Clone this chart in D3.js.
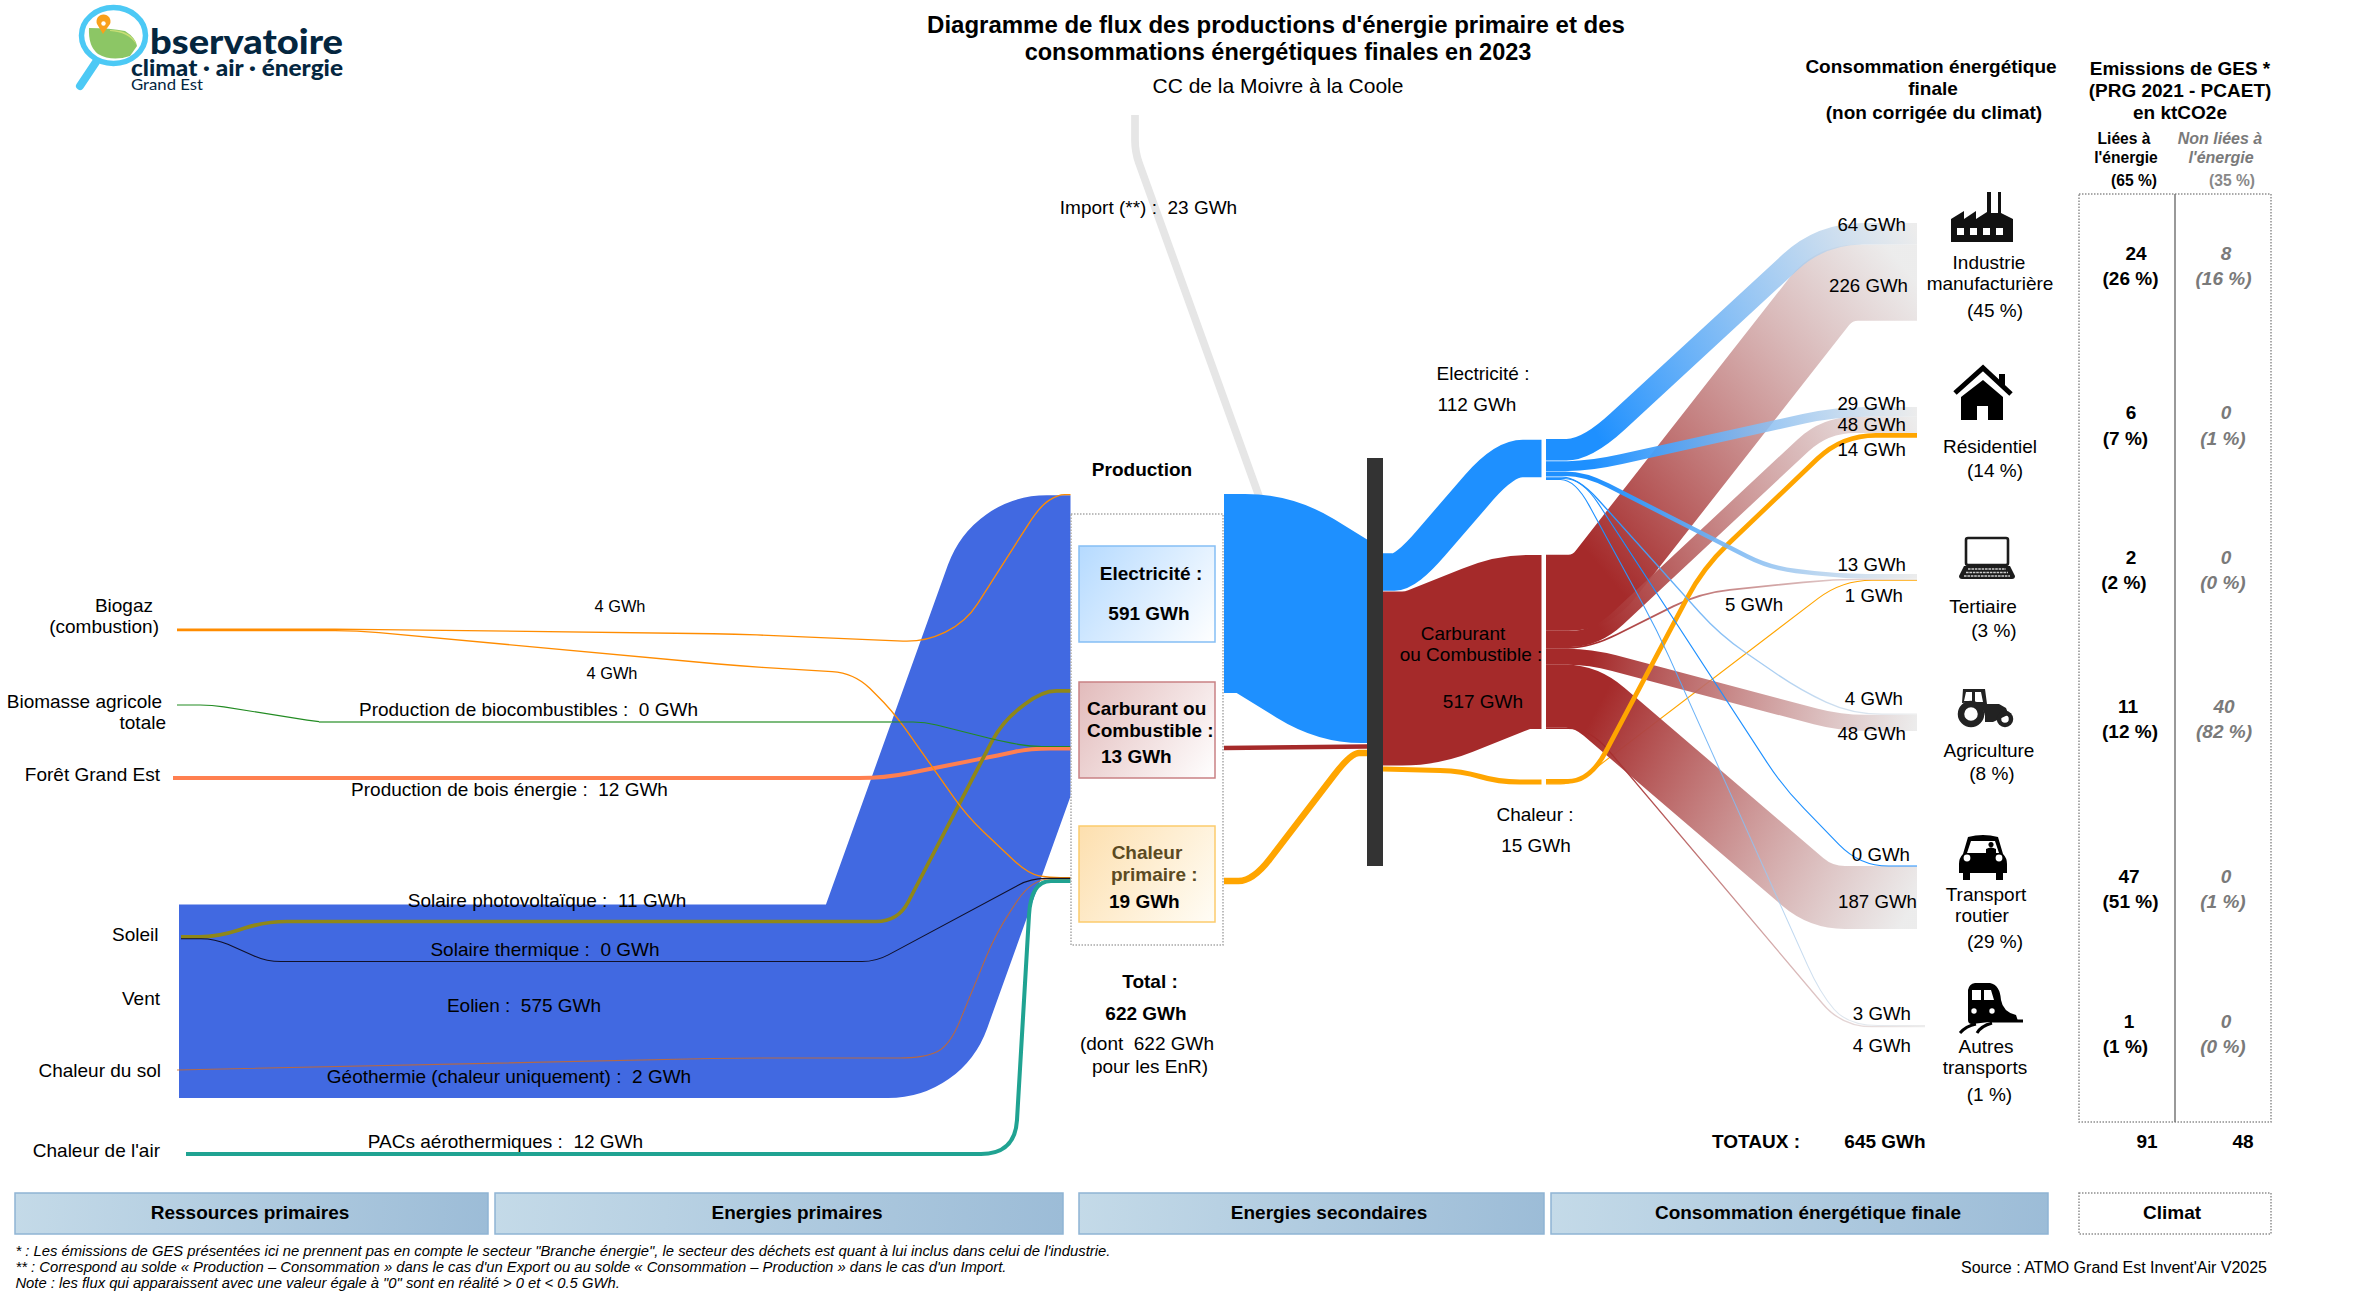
<!DOCTYPE html>
<html lang="fr"><head><meta charset="utf-8">
<script src="https://cdn.jsdelivr.net/npm/d3@7/dist/d3.min.js"></script>
<style>
html,body{margin:0;padding:0;background:#fff}
svg{display:block}
text{font-family:"Liberation Sans",Arial,sans-serif;fill:#000}
</style></head><body><svg id="c" width="2370" height="1299"></svg>
<script>
// ---------- DATA ----------
const primarySources=["Biogaz","Biogaz","Biomasse agricole","Forêt Grand Est","Vent","Soleil","Soleil","Chaleur du sol","Chaleur de l'air"];
const primaryTargets=["Electricité","Chaleur","Carburant","Carburant","Electricité","Electricité","Chaleur","Chaleur","Chaleur"];
const primaryNames=["","","Production de biocombustibles","Production de bois énergie","Eolien","Solaire photovoltaïque","Solaire thermique","Géothermie (chaleur uniquement)","PACs aérothermiques"];
const primaryValues=[4,4,0,12,575,11,0,2,12];
const productionNames=["Electricité","Carburant","Chaleur"];
const productionValues=[591,13,19];
const importValue=23;
const productionTotal=622, productionEnR=622;
const carrierNames=["Electricité","Carburant","Chaleur"];
const carrierValues=[112,517,15];
const sectorNames=[["Industrie","manufacturière"],["Résidentiel"],["Tertiaire"],["Agriculture"],["Transport","routier"],["Autres","transports"]];
const sectorShares=[45,14,3,8,29,1];
const elecBySector=[64,29,13,4,0,3];
const fuelBySector=[226,48,5,48,187,4];
const heatBySector=[0,14,1,0,0,0];
const finalTotal=645;
const ghgEnergy=[24,6,2,11,47,1];
const ghgEnergyShare=[26,7,2,12,51,1];
const ghgOther=[8,0,0,40,0,0];
const ghgOtherShare=[16,1,0,82,1,0];
const ghgTotals=[91,48];
const ghgTotalShares=[65,35];
const columnNames=["Ressources primaires","Energies primaires","Energies secondaires","Consommation énergétique finale"];

// ---------- LAYOUT (no values here) ----------
const thick=d3.scaleLinear().domain([0,591]).range([0,199]);   // GWh -> px
const minW=1.1;
const ELEC="#1E90FF",FUEL="#A52A2A",HEAT="#FFA500",FADE="#E6E6E6";
const primaryTops={"Biogaz":628.6,"Biomasse agricole":705,"Forêt Grand Est":776,"Soleil":935,"Vent":904.5,"Chaleur du sol":1069.6,"Chaleur de l'air":1152};
const productionTops={"Electricité":494,"Carburant":746.5,"Chaleur":877};
const primaryStartX=[177,177,177,173,179,181,181,177,186];
const primaryColors=["#FF8C00","#FF8C00","#228B22","#FF7F50","#4169E1","#8F8718","#10102a","#D2691E","#20A392"];
const primaryRoutes=[
 {r:22,m:[[357,"s"],[735,634],[925,642],[966,622],[1040,506],[1058,"e"]]},
 {r:22,m:[[357,"s"],[740,666],[854,673],[892,710],[967,816],[1028,874],[1050,"e"]]},
 {r:12,m:[[212,"s"],[319,722],[925,722],[1000,741],[1030,"e"]]},
 {r:25,m:[[884,"s"],[1000,755],[1030,"e"]]},
 {r:6,m:[[894,"s"],[1041,"e"]],endX:1130},
 {r:22,m:[[218,"s"],[265,921.5],[898,921.5],[1002,722],[1042,"e"]]},
 {r:14,m:[[215,"s"],[267,961.5],[876,961.5],[1031,"e"]]},
 {r:26,m:[[737,1058],[925,1058],[950,1045],[996,933],[1032,"e"]]},
 {r:34,m:[[1015,"s"],[1031,"e"]]}
];
const biofuelPale=[[319,722],[892,722]];
const bioPaleColor="#7CBB7C";
const sectorTops=[223,407,574,713.5,866,1025];
const sectorEndX=[1917,1917,1917,1917,1917,1925];
const carrierStartX=1546,carrierEndX=1541.5,barX=[1367,1383],barY=[458,866];
const elecTop=439,fuelTop=554.7,heatTop=779,elecGap=.6;
const elecRoutes=[
 {r:42,m:[[1587,"s"],[1821,"e"]]},
 {r:32,m:[[1590,"s"],[1835,"e"]]},
 {r:26,m:[[1585,"s"],[1770,568],[1840,"e"]]},
 {r:30,m:[[1578,"s"],[1720,635],[1800,690],[1852,"e"]]},
 {r:30,m:[[1582,"s"],[1783,787],[1860,"e"]],solid:true},
 {r:30,m:[[1575,"s"],[1657,630],[1723,777],[1820,993],[1848,"e"]]}
];
const fuelRoutes=[
 {r:24,m:[[1591,"s"],[1834,"e"]]},
 {r:30,m:[[1596,"s"],[1825,"e"]]},
 {r:30,m:[[1590,"s"],[1700,593],[1833,"e"]]},
 {r:25,m:[[1590,"s"],[1840,"e"]]},
 {r:24,m:[[1586,"s"],[1821,"e"]]},
 {r:30,m:[[1590,"s"],[1842,"e"]]}
];
const heatRoutes=[null,
 {r:34,m:[[1590,"s"],[1703,568],[1842,"e"]]},
 {r:30,m:[[1575,"s"],[1842,"e"]]},
 null,null,null];

const svg=d3.select("#c");
const defs=svg.append("defs");
function grad(id,x1,y1,x2,y2,stops){
  const g=defs.append("linearGradient").attr("id",id).attr("gradientUnits","userSpaceOnUse")
    .attr("x1",x1).attr("y1",y1).attr("x2",x2).attr("y2",y2);
  stops.forEach(s=>g.append("stop").attr("offset",s[0]).attr("stop-color",s[1]).attr("stop-opacity",s[2]==null?1:s[2]));
  return `url(#${id})`;
}
defs.append("clipPath").attr("id","primaryClip").append("rect").attr("x",0).attr("y",0).attr("width",1070.5).attr("height",1299);
function route(points,r){
  const p=d3.path(); p.moveTo(points[0][0],points[0][1]);
  for(let i=1;i<points.length-1;i++){
    const a=points[i-1],b=points[i],c=points[i+1];
    const l1=Math.hypot(b[0]-a[0],b[1]-a[1]),l2=Math.hypot(c[0]-b[0],c[1]-b[1]);
    if(!l1||!l2)continue;
    const d1=Math.min(r,l1/2),d2=Math.min(r,l2/2);
    p.lineTo(b[0]-(b[0]-a[0])/l1*d1,b[1]-(b[1]-a[1])/l1*d1);
    p.quadraticCurveTo(b[0],b[1],b[0]+(c[0]-b[0])/l2*d2,b[1]+(c[1]-b[1])/l2*d2);
  }
  const e=points[points.length-1]; p.lineTo(e[0],e[1]);
  return p.toString();
}
function resolve(x0,y0,mids,x1,y1){
  return [[x0,y0],...mids.map(q=>[q[0],q[1]==="s"?y0:q[1]==="e"?y1:q[1]]),[x1,y1]];
}
const width=v=>Math.max(thick(v),minW);
const clean=v=>thick(v);

// ---- white bg
svg.append("rect").attr("width",2370).attr("height",1299).attr("fill","#fff");

// ---- primary flows
const srcOffset={},tgtOffset={};
const primaryData=primaryValues.map((v,i)=>{
  const s=primarySources[i],t=primaryTargets[i];
  srcOffset[s]=srcOffset[s]||0; tgtOffset[t]=tgtOffset[t]||0;
  const sy=primaryTops[s]+srcOffset[s]+clean(v)/2, ty=productionTops[t]+tgtOffset[t]+clean(v)/2;
  srcOffset[s]+=clean(v); tgtOffset[t]+=clean(v);
  const R=primaryRoutes[i];
  return {i,v,color:primaryColors[i],w:width(v),r:R.r,pts:resolve(primaryStartX[i],sy,R.m,R.endX||1071,ty)};
});
const primaryLayer=svg.append("g").attr("clip-path","url(#primaryClip)");
primaryLayer.selectAll("path").data([...primaryData].sort((a,b)=>b.v-a.v)).join("path")
  .attr("d",d=>route(d.pts,d.r)).attr("fill","none").attr("stroke",d=>d.color).attr("stroke-width",d=>d.w)
  .attr("stroke-opacity",d=>d.i===7?.8:1);
primaryLayer.append("path").attr("d",route(biofuelPale,0)).attr("fill","none").attr("stroke",bioPaleColor).attr("stroke-width",2);

// ---- import + production -> bar
const importRoute=[[1135,115],[1135,152],[1264,510]];
svg.append("path").attr("d",route(importRoute,12)).attr("fill","none").attr("stroke","#E6E6E6").attr("stroke-width",width(importValue));
const prodStartX=1224;
const prodRoutes=[
 {r:20,pts:[[prodStartX,593.5],[1265,593.5],[1346,643.5],[1378,643.5]],c:ELEC},
 {r:0,pts:[[prodStartX,748],[1367,746.5]],c:FUEL},
 {r:28,pts:[[prodStartX,881],[1253,881],[1351,753],[1367,753]],c:HEAT}
];
svg.append("g").selectAll("path").data(prodRoutes.map((d,i)=>({...d,v:productionValues[i]}))).join("path")
  .attr("d",d=>route(d.pts,d.r)).attr("fill","none").attr("stroke",d=>d.c).attr("stroke-width",d=>width(d.v));

// ---- bar -> carrier nodes
const carrierRoutes=[
 {r:38,pts:[[1383,572],[1406,572],[1504,458.5],[carrierEndX,458.5]],c:ELEC},
 {r:20,pts:[[1375,678.5],[1422,678.5],[1513,642],[carrierEndX,642]],c:FUEL},
 {r:22,pts:[[1383,769],[1462,771],[1498,782],[carrierEndX,782]],c:HEAT}
];
svg.append("g").selectAll("path").data(carrierRoutes.map((d,i)=>({...d,v:carrierValues[i]}))).join("path")
  .attr("d",d=>route(d.pts,d.r)).attr("fill","none").attr("stroke",d=>d.c).attr("stroke-width",d=>width(d.v));

// ---- final flows
const sectorOff=sectorTops.map(()=>0);
function buildFinal(values,routes,top,gap,color,prefix){
  let o=top;
  return values.map((v,i)=>{
    if(!routes[i])return null;
    const w=clean(v),sy=o+w/2; o+=w+gap;
    const ey=sectorTops[i]+sectorOff[i]+w/2; sectorOff[i]+=w;
    const R=routes[i],pts=resolve(carrierStartX,sy,R.m,sectorEndX[i],ey);
    return {id:prefix+i,v,color,w:width(v),r:R.r,pts,solid:R.solid||color===HEAT};
  }).filter(Boolean);
}
const elecFlows=buildFinal(elecBySector,elecRoutes,elecTop,elecGap,ELEC,"e");
const fuelFlows=buildFinal(fuelBySector,fuelRoutes,fuelTop,0,FUEL,"f");
const heatFlows=buildFinal(heatBySector,heatRoutes,heatTop,0,HEAT,"h");
function strokeOf(d){
  if(d.solid)return d.color;
  const a=d.pts[0],b=d.pts[d.pts.length-1];
  return grad("g"+d.id,a[0],a[1],b[0],b[1],[[0,d.color,1],[.12,d.color,1],[1,FADE,.75]]);
}
const finalLayer=svg.append("g");
finalLayer.selectAll("path").data([...heatFlows.slice(1),...fuelFlows,heatFlows[0],...elecFlows]).join("path")
  .attr("d",d=>route(d.pts,d.r)).attr("fill","none").attr("stroke",strokeOf).attr("stroke-width",d=>d.w);

// ---- production column
svg.append("rect").attr("x",1071).attr("y",514).attr("width",152).attr("height",431).attr("fill","#fff")
  .attr("stroke","#a8a8a8").attr("stroke-width",1.5).attr("stroke-dasharray","1.5 1.5");
const boxTops=[546,682,826];
const boxStyle=[["#B5DAFF","#FFFFFF","#85BEF5"],["#E2BBBB","#FFFFFF","#C98184"],["#FDDFAE","#FFFDF6","#FCCB6C"]];
boxTops.forEach((y,i)=>{
  const f=grad("bx"+i,1079,y,1215,y+96,[[0,boxStyle[i][0]],[1,boxStyle[i][1]]]);
  svg.append("rect").attr("x",1079).attr("y",y).attr("width",136).attr("height",96).attr("fill",f).attr("stroke",boxStyle[i][2]).attr("stroke-width",1.5);
});
// ---- bar
svg.append("rect").attr("x",barX[0]).attr("y",barY[0]).attr("width",barX[1]-barX[0]).attr("height",barY[1]-barY[0]).attr("fill","#333");

// ---- emissions frame
const dotted={stroke:"#8f8f8f","stroke-width":1.5,"stroke-dasharray":"1.5 1.5"};
const fr=svg.append("rect").attr("x",2079).attr("y",194).attr("width",192).attr("height",928).attr("fill","none");
Object.entries(dotted).forEach(([k,v])=>fr.attr(k,v));
svg.append("line").attr("x1",2175).attr("x2",2175).attr("y1",194).attr("y2",1122).attr("stroke","#777").attr("stroke-width",1.5);

// ---- column bands
const bandX=[[15,488],[495,1063],[1079,1544],[1551,2048]];
bandX.forEach((b,i)=>{
  const f=grad("band"+i,b[0],1193,b[1],1234,[[0,"#C4DAE8"],[1,"#9CBCD7"]]);
  svg.append("rect").attr("x",b[0]).attr("y",1193).attr("width",b[1]-b[0]).attr("height",41).attr("fill",f).attr("stroke","#8FB4D4").attr("stroke-width",1.5);
});
const cb=svg.append("rect").attr("x",2079).attr("y",1193).attr("width",192).attr("height",41).attr("fill","#fff");
Object.entries(dotted).forEach(([k,v])=>cb.attr(k,v));

// ---- text
function T(x,y,s,o={}){
  const t=svg.append("text").attr("x",x).attr("y",y).text(s).attr("font-size",o.size||19)
    .attr("text-anchor",o.a||"middle").attr("xml:space","preserve").style("white-space","pre");
  if(o.b)t.attr("font-weight","bold");
  if(o.i)t.attr("font-style","italic");
  if(o.f)t.style("fill",o.f);
  return t;
}
const gwh=v=>`${v} GWh`;
const BOLD={b:1};
// title
T(1276,32.5,"Diagramme de flux des productions d'énergie primaire et des",{b:1,size:24});
T(1278,59.5,"consommations énergétiques finales en 2023",{b:1,size:23.5});
T(1278,93,"CC de la Moivre à la Coole",{size:21});
// left resource labels
T(153,612,"Biogaz",{a:"end"});T(159,633,"(combustion)",{a:"end"});
T(162,708,"Biomasse agricole",{a:"end"});T(166,729,"totale",{a:"end"});
T(160,781,"Forêt Grand Est",{a:"end"});
T(158.5,941,"Soleil",{a:"end"});T(160,1005,"Vent",{a:"end"});
T(161,1077,"Chaleur du sol",{a:"end"});T(160,1157,"Chaleur de l'air",{a:"end"});
// primary flow labels
T(620,612,gwh(primaryValues[0]),{size:16.4});
T(612,679,gwh(primaryValues[1]),{size:16.4});
const flowLabelPos=[null,null,[528.5,716],[509.5,796],[524,1012],[547,907],[545,956],[509,1083],[505.5,1148]];
primaryNames.forEach((n,i)=>{ if(flowLabelPos[i]) T(flowLabelPos[i][0],flowLabelPos[i][1],`${n} :  ${gwh(primaryValues[i])}`); });
T(1148.5,214,`Import (**) :  ${gwh(importValue)}`);
// production column
T(1142,476,"Production",BOLD);
T(1151,580,"Electricité :",BOLD);T(1149,620,gwh(productionValues[0]),BOLD);
T(1087,715,"Carburant ou",{b:1,a:"start"});T(1087,737,"Combustible :",{b:1,a:"start"});T(1101,763,gwh(productionValues[1]),{b:1,a:"start"});
T(1147,859,"Chaleur",{b:1,f:"#5b4a22"});T(1111,881,"primaire :",{b:1,a:"start",f:"#5b4a22"});T(1109,908,gwh(productionValues[2]),{b:1,a:"start"});
T(1150,988,"Total :",BOLD);T(1146,1020,gwh(productionTotal),BOLD);
T(1147,1050,`(dont  ${gwh(productionEnR)}`);T(1150,1073,"pour les EnR)");
// carriers
T(1483,380,"Electricité :");T(1477,411,gwh(carrierValues[0]));
T(1463,640,"Carburant");T(1471,661,"ou Combustible :");T(1483,708,gwh(carrierValues[1]));
T(1535,821,"Chaleur :");T(1536,852,gwh(carrierValues[2]));
// final flow labels
const endLabels=[[1906,231,elecBySector[0]],[1908,292,fuelBySector[0]],[1906,410,elecBySector[1]],[1906,431,fuelBySector[1]],[1906,456,heatBySector[1]],
 [1906,571,elecBySector[2]],[1903,602,heatBySector[2]],[1903,705,elecBySector[3]],[1906,740,fuelBySector[3]],[1910,861,elecBySector[4]],[1917,908,fuelBySector[4]],[1911,1020,elecBySector[5]],[1911,1052,fuelBySector[5]]];
endLabels.forEach(d=>T(d[0],d[1],gwh(d[2]),{a:"end",size:18.7}));
T(1754,611,gwh(fuelBySector[2]),{size:18.7});
// sector labels
const secLines=[[[1989,269],[1990,290]],[[1990,453]],[[1983,613]],[[1989,757]],[[1986,901],[1982,922]],[[1986,1053],[1985,1074]]];
const secPct=[[1995,317],[1995,477],[1994,637],[1992,780],[1995,948],[1989.5,1101]];
sectorNames.forEach((n,i)=>{
  n.forEach((l,j)=>T(secLines[i][j][0],secLines[i][j][1],l));
  T(secPct[i][0],secPct[i][1],`(${sectorShares[i]} %)`);
});
// headers
T(1931,73,"Consommation énergétique",BOLD);T(1933,95,"finale",BOLD);T(1934,119,"(non corrigée du climat)",BOLD);
T(2180,75,"Emissions de GES *",BOLD);T(2180,97,"(PRG 2021 - PCAET)",BOLD);T(2180,119,"en ktCO2e",BOLD);
T(2124,144,"Liées à",{b:1,size:15.6});T(2126,163,"l'énergie",{b:1,size:15.6});T(2134,186,`(${ghgTotalShares[0]} %)`,{b:1,size:15.6});
const G="#7a7a7a";
T(2220,144,"Non liées à",{b:1,i:1,size:16,f:G});T(2221,163,"l'énergie",{b:1,i:1,size:16,f:G});T(2232,186,`(${ghgTotalShares[1]} %)`,{b:1,size:15.6,f:"#888"});
// emissions
const rowY=[[260,285],[419,445],[564,589],[713,738],[883,908],[1028,1053]];
const aX=[[2136,2130.5],[2131,2125.5],[2131,2124],[2128,2130],[2129,2130.5],[2129,2125.5]];
const oX=[[2226,2223.5],[2226,2223],[2226,2223],[2224,2224],[2226,2223],[2226,2223]];
ghgEnergy.forEach((v,i)=>{
  T(aX[i][0],rowY[i][0],v,BOLD);T(aX[i][1],rowY[i][1],`(${ghgEnergyShare[i]} %)`,BOLD);
  T(oX[i][0],rowY[i][0],ghgOther[i],{b:1,i:1,f:G});T(oX[i][1],rowY[i][1],`(${ghgOtherShare[i]} %)`,{b:1,i:1,f:G});
});
T(1756,1148,"TOTAUX :",BOLD);T(1885,1148,gwh(finalTotal),BOLD);T(2147,1148,ghgTotals[0],BOLD);T(2243,1148,ghgTotals[1],BOLD);
// bands
const bandLabelX=[250,797,1329,1808];
columnNames.forEach((n,i)=>T(bandLabelX[i],1219,n,BOLD));
T(2172,1219,"Climat",BOLD);
// notes
T(15.4,1256,"* : Les émissions de GES présentées ici ne prennent pas en compte le secteur \"Branche énergie\", le secteur des déchets est quant à lui inclus dans celui de l'industrie.",{a:"start",i:1,size:14.8});
T(15.4,1272,"** : Correspond au solde « Production – Consommation » dans le cas d'un Export ou au solde « Consommation – Production » dans le cas d'un Import.",{a:"start",i:1,size:14.8});
T(15.4,1288,"Note : les flux qui apparaissent avec une valeur égale à \"0\" sont en réalité > 0 et < 0.5 GWh.",{a:"start",i:1,size:14.8});
T(2267,1273,"Source : ATMO Grand Est Invent'Air V2025",{a:"end",size:16});

// ---- icons
const ic=svg.append("g").attr("fill","#000");
ic.append("path").attr("fill-rule","evenodd").attr("d","M1951 242V219L1964 211V219L1976 211V219L1987 212V192H1991V213L1998 213V192H2001V213L2013 219V242Z M1957 228H1964V235H1957Z M1970 228H1977V235H1970Z M1983 228H1990V235H1983Z M1996 228H2003V235H1996Z").attr("fill","#111");
ic.append("path").attr("d","M1955 393L1983 368L2011 394M1983 368").attr("fill","none").attr("stroke","#000").attr("stroke-width",5);
ic.append("path").attr("fill-rule","evenodd").attr("d","M1983 380L1961 397V420H1977V406H1988V420H2003V397Z M1999 374H2005V388L1999 383Z");
// laptop
ic.append("rect").attr("x",1966).attr("y",538).attr("width",42).attr("height",27).attr("rx",2).attr("fill","none").attr("stroke","#1c1c1c").attr("stroke-width",2.6);
ic.append("path").attr("d","M1964 566H2010L2015 576Q2015 579 2012 579H1962Q1959 579 1959 576Z").attr("fill","#1c1c1c");
ic.append("path").attr("d","M1968 569H2006M1966 572.5H2008M1964 576H2010").attr("stroke","#ccc").attr("stroke-width",1.6).attr("stroke-dasharray","2.6 .8");
// tractor
ic.append("path").attr("fill-rule","evenodd").attr("fill","#222").attr("d","M1963 689H1985L1987 704H1999L2006 708L2008 713H2012L1993 722H1985V716Q1982 700 1962 703ZM1966 692L1964 701H1972V692ZM1975 692V702H1983L1981 692Z");
ic.append("circle").attr("cx",1971).attr("cy",714).attr("r",10).attr("fill","none").attr("stroke","#222").attr("stroke-width",6.5);
ic.append("circle").attr("cx",2005).attr("cy",719).attr("r",6).attr("fill","none").attr("stroke","#222").attr("stroke-width",4.5);
// car
ic.append("path").attr("fill-rule","evenodd").attr("d","M1968 837Q1983 833 1998 837L2003 854Q2007 858 2007 864V873H2003V880H1996V873H1970V880H1963V873H1959V864Q1959 858 1963 854ZM1971 841L1967 853H1999L1995 841Z");
ic.append("circle").attr("cx",1967).attr("cy",858).attr("r",3.4).attr("fill","#fff");
ic.append("circle").attr("cx",1999).attr("cy",858).attr("r",3.4).attr("fill","#fff");
ic.append("path").attr("d","M1986 853V849Q1991 846 1996 849V853ZM1991 842a2.6 2.6 0 1 0 .01 0Z");
// train
ic.append("path").attr("fill-rule","evenodd").attr("d","M1975 983H1990Q2000 985 2001 1000Q2003 1012 2016 1015L2018 1021H1998L1972 1024Q1968 1024 1968 1020V990Q1969 984 1975 983ZM1972 990V1000H1981V990ZM1984 990V1000H1994L1991 990Z");
ic.append("circle").attr("cx",1974).attr("cy",1011).attr("r",2.7).attr("fill","#fff");
ic.append("circle").attr("cx",1992).attr("cy",1011).attr("r",2.7).attr("fill","#fff");
ic.append("path").attr("d","M1960 1033Q1966 1026 1976 1024M1977 1033Q1981 1026 1992 1023M1990 1021H2023").attr("fill","none").attr("stroke","#000").attr("stroke-width",3);

// ---- logo
const lg=svg.append("g");
lg.append("path").attr("d","M89 28Q110 28 125 31Q136 38 137 46L130 56Q112 62 98 54Q88 46 89 28Z").attr("fill","#8CC665");
lg.append("path").attr("d","M110 30Q132 30 137 46L136 44Q128 32 110 31Z").attr("fill","#C8DE74");
lg.append("ellipse").attr("cx",113.5).attr("cy",35.5).attr("rx",32).attr("ry",28).attr("fill","none").attr("stroke","#4CC9F5").attr("stroke-width",5.5);
lg.append("path").attr("d","M96 62L80 86").attr("stroke","#4CC9F5").attr("stroke-width",8).attr("stroke-linecap","round");
lg.append("path").attr("d","M103 34L97 24A7 7 0 1 1 110 24Z").attr("fill","#F9A01B");
lg.append("circle").attr("cx",103.5).attr("cy",23.5).attr("r",2.2).attr("fill","#fff");
const navy="#04263F";
const logoText=(x,y,s,size,len,w)=>lg.append("text").attr("x",x).attr("y",y).attr("font-size",size).attr("font-weight",w).attr("textLength",len).attr("lengthAdjust","spacingAndGlyphs").style("font-family","Lato,'Noto Sans',sans-serif").style("fill",navy).text(s);
logoText(150,54,"bservatoire",34,193,900);
logoText(131,76,"climat · air · énergie",22,212,900);
logoText(131,90,"Grand Est",16,72,400);
</script></body></html>
